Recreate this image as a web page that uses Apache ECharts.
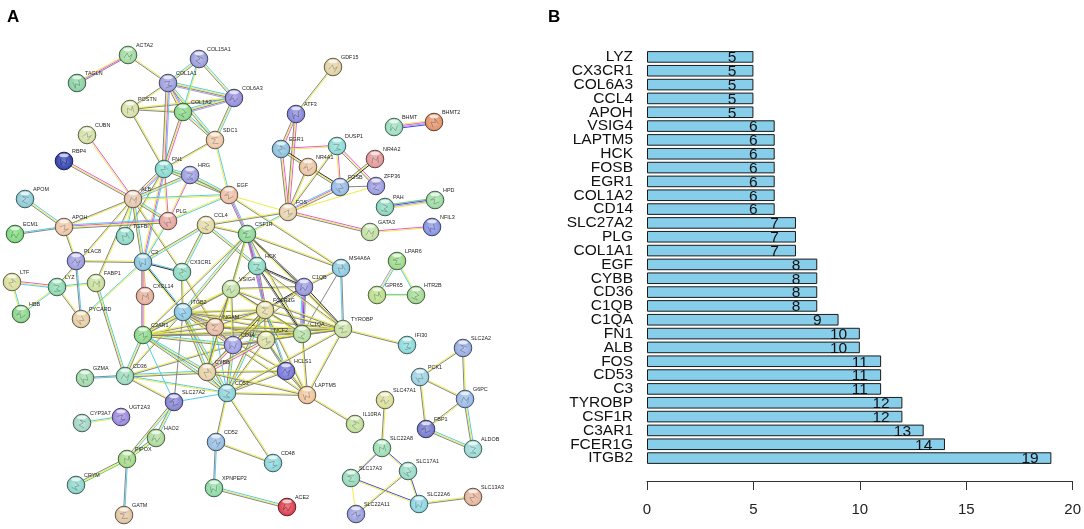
<!DOCTYPE html>
<html><head><meta charset="utf-8">
<style>html,body{margin:0;padding:0;background:#fff}#c{width:1084px;height:529px}</style>
<script src="https://cdn.jsdelivr.net/npm/echarts@6/dist/echarts.min.js"></script>
</head><body><div id="c"></div>
<script>
// Panel B data
const barCategories = ['LYZ','CX3CR1','COL6A3','CCL4','APOH','VSIG4','LAPTM5','HCK','FOSB','EGR1','COL1A2','CD14','SLC27A2','PLG','COL1A1','EGF','CYBB','CD36','C1QB','C1QA','FN1','ALB','FOS','CD53','C3','TYROBP','CSF1R','C3AR1','FCER1G','ITGB2'];
const barValues = [5,5,5,5,5,6,6,6,6,6,6,6,7,7,7,8,8,8,8,9,10,10,11,11,11,12,12,13,14,19];
const xTicks = {min:0,max:20,interval:5};

// Panel A data (network nodes)
const nodeNames = ['ACTA2','TAGLN','COL15A1','COL1A1','COL6A3','POSTN','COL1A2','SDC1','CUBN','RBP4','FN1','HRG','EGF','ALB','PLG','APOM','APOH','ECM1','TGFBI','CCL4','CSF1R','PLAC8','C3','CX3CR1','HCK','VSIG4','CXCL14','ITGB2','NGAM','C3AR1','CD14','CYBB','CD53','SLC27A2','CD36','GZMA','CYP3A7','UGT2A3','HAO2','PIPOX','CRYM','GATM','CD52','XPNPEP2','LTF','LYZ','HBB','FABP1','PYCARD','FCER1G','NCF2','C1QB','MS4A6A','C1QA','TYROBP','HCLS1','LAPTM5','IL10RA','IFI30','SLC47A1','SLC22A8','SLC17A1','SLC17A3','SLC22A11','SLC22A6','SLC13A3','ALDOB','FBP1','G6PC','PCK1','SLC2A2','CD48','ACE2','GPR65','HTR2B','LPAR6','GDF15','ATF3','EGR1','DUSP1','NR4A1','NR4A2','FOSB','ZFP36','FOS','BHMT','BHMT2','PAH','HPD','GATA3','NFIL3'];
const nodeX = [128,77,199,168,234,130,183,215,87,64,164,190,229,133,168,25,64,15,125,206,247,76,143,182,257,231,145,183,215,143,233,207,227,174,125,85,82,121,156,127,76,124,216,214,12,57,21,96,81,265,266,304,341,302,343,286,307,355,407,385,382,408,351,356,419,473,473,426,465,420,463,273,287,377,416,397,333,296,281,337,308,375,340,376,288,394,434,385,435,370,432];
const nodeY = [55,83,59,83,98,109,112,140,135,161,169,175,195,199,221,199,227,234,236,225,234,261,262,272,266,289,296,312,327,335,345,372,393,402,376,378,423,417,438,459,485,515,442,488,282,287,314,283,319,310,340,287,268,334,329,371,395,424,345,400,448,471,478,514,504,497,449,429,399,377,348,463,507,295,295,261,67,114,149,146,167,159,187,186,212,127,122,207,200,232,227];
const nodeColors = ['#a5dca5','#90d4a8','#a0a2de','#a2a2e2','#9a92de','#d8e2aa','#90da90','#efcbac','#d6e2aa','#3a4ab4','#8cdcd2','#a0a2e2','#efc2aa','#e8c8b0','#e8aaa2','#92ced8','#efcaaa','#84da84','#92dcca','#e4dcaa','#92da9a','#a2a2e2','#92cae2','#92dcc2','#92dcc8','#c4e2aa','#e8b4a2','#92cce8','#e8c0a8','#92da92','#a4a4e8','#e8d4aa','#92d4dc','#8a88d4','#a0dcc0','#a4dcb0','#a4d8c8','#a090e0','#b0dca0','#a8dc90','#92d8cc','#e4c8a8','#9cc0e4','#92dca8','#dce0a0','#92dcb4','#90d890','#cce2a0','#e8d0a8','#e4dca8','#dce0a8','#9c9ce0','#92cce0','#b8e0a8','#cce2a8','#7c7cdc','#f0c8a0','#c4e0a0','#92dcdc','#dce0a0','#a0e0b8','#9cdcc8','#9cdcc0','#a0a4e0','#92d8e4','#e8b8a0','#a0dcd8','#7c80d0','#9cbce8','#a0d4e4','#9cb0e4','#92d8dc','#e04858','#bce090','#a8dc98','#a0dc90','#e4d4a8','#8c8cdc','#92c4e0','#92dcd8','#eec8a8','#e49c9c','#9cbce8','#a0a0e4','#e8d4b0','#a0e0c0','#e49870','#92d8c0','#a0dca8','#c4e2a8','#8c98e4'];

// Edges: pair and evidence strand colours
// c cyan, m magenta, y yellow, g grey, K black, b blue, l green, p lilac
const edgeList = [
'TAGLN-ACTA2:ymg','ACTA2-COL1A1:yg','COL1A1-COL15A1:cyg','COL1A1-COL6A3:cygp','COL15A1-COL6A3:cyg','COL15A1-COL1A2:yc','COL1A1-COL1A2:cmyg','COL1A1-POSTN:yg','POSTN-COL1A2:yg','POSTN-COL6A3:yg','COL1A2-COL6A3:cygp','COL1A1-SDC1:cyg','COL1A2-SDC1:cyg','COL6A3-SDC1:cyg','COL1A1-FN1:cmyg','COL1A2-FN1:myg','POSTN-FN1:yg','SDC1-FN1:yg','SDC1-EGF:cy','CUBN-ALB:my','RBP4-ALB:myg','FN1-ALB:cmyg','FN1-HRG:cyg','FN1-EGF:cyg','FN1-PLG:my','FN1-C3:cmy','FN1-TGFBI:yg','HRG-ALB:cyg','HRG-PLG:my','HRG-EGF:cyg','ALB-EGF:cy','ALB-PLG:cyg','ALB-APOH:yg','ALB-C3:cyg','ALB-TGFBI:cy','ALB-CX3CR1:yg','ALB-LYZ:yg','ALB-FABP1:yg','APOM-APOH:cyg','ECM1-APOH:cg','APOH-PLG:cmyg','APOH-PLAC8:yg','EGF-PLG:cy','EGF-CSF1R:cmg','EGF-FOS:y','EGF-MS4A6A:yg','C3-PLG:yc','CCL4-C3:cyg','CCL4-CX3CR1:cyg','CCL4-CSF1R:yg','CCL4-HCK:cyg','CCL4-FOS:yg','CSF1R-FOS:cy',
'GDF15-ATF3:yg','ATF3-EGR1:myg','ATF3-FOS:myg','EGR1-DUSP1:my','EGR1-NR4A1:Kyg','EGR1-FOS:myg','DUSP1-FOSB:my','DUSP1-ZFP36:myg','NR4A1-FOS:yg','NR4A1-FOSB:Kyg','NR4A2-FOSB:Kyg','FOSB-ZFP36:g','FOS-FOSB:cmyg','FOS-ZFP36:y','FOS-DUSP1:yg','FOS-GATA3:myg','GATA3-NFIL3:my','BHMT-BHMT2:ympb','PAH-HPD:lbpy','LPAR6-GPR65:cyp','LPAR6-HTR2B:yc','GPR65-HTR2B:cy',
'LTF-LYZ:myc','LTF-HBB:cy','LYZ-HBB:cy','LYZ-FABP1:cy','LYZ-PYCARD:yg','PLAC8-PYCARD:cg','PLAC8-C3:yg','FABP1-CD36:cyg','PYCARD-C3:cy','C3-CXCL14:my','C3-ITGB2:cKy','C3-C3AR1:ymg','C3-CX3CR1:cK','CX3CR1-ITGB2:yg','CX3CR1-NGAM:yg',
'CD36-GZMA:cg','CD36-C3AR1:cyg','CD36-SLC27A2:yg','CD36-CD53:cy','CD36-CYBB:cyg','CD36-ITGB2:yg','CD36-CD14:yg','SLC27A2-HAO2:cyg','SLC27A2-PIPOX:cyg','HAO2-PIPOX:lyg','PIPOX-CRYM:lyg','PIPOX-GATM:cg','CYP3A7-UGT2A3:cy','SLC27A2-CD53:c','SLC27A2-C3AR1:c','CD53-CD52:yg','CD52-CD48:yg','CD53-CD48:yg','CD52-XPNPEP2:cg','XPNPEP2-ACE2:cyg','CD53-LAPTM5:yg','LAPTM5-IL10RA:yg','LAPTM5-TYROBP:yg','LAPTM5-C1QA:yg','HCLS1-LAPTM5:yg','TYROBP-MS4A6A:cg','TYROBP-IFI30:yg','C1QB-MS4A6A:yg','C1QA-C1QB:cmbg','MS4A6A-C1QA:g',
'SLC47A1-SLC22A8:yg','SLC22A8-SLC17A1:by','SLC22A8-SLC17A3:by','SLC17A1-SLC22A6:by','SLC17A3-SLC22A6:by','SLC17A3-SLC22A11:y','SLC22A11-SLC17A1:yg','SLC22A6-SLC13A3:yg','PCK1-SLC2A2:yg','PCK1-G6PC:yg','PCK1-FBP1:yg','SLC2A2-G6PC:yg','G6PC-FBP1:yg','G6PC-ALDOB:cyg','FBP1-ALDOB:cyg',
'ITGB2-FCER1G:yg','ITGB2-NGAM:cmg','ITGB2-C3AR1:cyg','ITGB2-CD14:cmyg','ITGB2-NCF2:yg','ITGB2-C1QA:yg','ITGB2-TYROBP:yg','ITGB2-CSF1R:cyg','ITGB2-VSIG4:yg','ITGB2-CYBB:cyg','ITGB2-CD53:cyg','ITGB2-HCLS1:yg','ITGB2-SLC27A2:g',
'C3AR1-FCER1G:yg','C3AR1-NGAM:yg','C3AR1-CD14:cyg','C3AR1-C1QA:yg','C3AR1-TYROBP:yg','C3AR1-CYBB:cyg','C3AR1-CD53:cyg','C3AR1-CSF1R:yg','C3AR1-VSIG4:yg',
'FCER1G-NGAM:yg','FCER1G-CD14:Kyg','FCER1G-NCF2:yg','FCER1G-C1QA:yg','FCER1G-C1QB:Kg','FCER1G-TYROBP:yg','FCER1G-CSF1R:mg','FCER1G-HCK:cmg','FCER1G-VSIG4:yg','FCER1G-CYBB:yg','FCER1G-CD53:cyg','FCER1G-LAPTM5:yg','FCER1G-HCLS1:cg',
'NGAM-CD14:yg','NGAM-CYBB:cy','NGAM-CD53:c','NGAM-C1QA:yg','NGAM-TYROBP:yg','NGAM-VSIG4:yg',
'CD14-NCF2:cmg','CD14-C1QA:yg','CD14-C1QB:yg','CD14-CYBB:myg','CD14-CD53:cyg','CD14-VSIG4:yg','CD14-LAPTM5:yg',
'NCF2-C1QA:yg','NCF2-TYROBP:yg','NCF2-CYBB:myg','NCF2-HCLS1:cg','NCF2-CD53:yg','NCF2-LAPTM5:yg','C1QA-TYROBP:yg','C1QB-TYROBP:Kyg','C1QA-VSIG4:yg','C1QB-VSIG4:yg','C1QB-CSF1R:Kg','C1QA-CSF1R:yg','CSF1R-MS4A6A:yg','TYROBP-CSF1R:yg','TYROBP-HCK:yg','VSIG4-TYROBP:yg','CSF1R-HCK:cmg','CSF1R-VSIG4:cy','CSF1R-CYBB:yg','HCK-VSIG4:yg','HCK-C1QA:Kg','HCK-C1QB:Kg','VSIG4-CYBB:yg','CYBB-CD53:cyg','CD53-HCLS1:yg','CYBB-HCLS1:yg','CYBB-LAPTM5:yg','CD53-TYROBP:yg'
];
const strandColors = {c:'#48c8f0',m:'#e650e6',y:'#ecec3c',g:'#808080',K:'#1c1c1c',b:'#4040e0',l:'#58d058',p:'#a898e2'};

const idx = Object.fromEntries(nodeNames.map((n,i)=>[n,i]));
const edgeRows = edgeList.map(s=>{const [p,c]=s.split(':');const [a,b]=p.split('-');return {a:idx[a],b:idx[b],c};}).filter(e=>e.a!==undefined&&e.b!==undefined);
const edgeData = edgeRows.map(e=>[nodeX[e.a],nodeY[e.a],nodeX[e.b],nodeY[e.b]]);
const nodeData = nodeNames.map((n,i)=>[nodeX[i],nodeY[i]]);

function shade(hex,f){const n=parseInt(hex.slice(1),16);const ch=[n>>16,(n>>8)&255,n&255].map(v=>Math.round(f>0?v+(255-v)*f:v*(1+f)));return 'rgb('+ch.join(',')+')';}
const squiggle=[[-4,2],[-1,-3],[1,1],[4,-2],[2,4]];

const chart = echarts.init(document.getElementById('c'),null,{renderer:'canvas'});
chart.setOption({
  animation:false,
  backgroundColor:'#fff',
  textStyle:{fontFamily:'"Liberation Sans",Arial,sans-serif'},
  grid:[
    {left:0,right:0,top:0,bottom:0},
    {left:647,width:426,top:50,height:415}
  ],
  xAxis:[
    {gridIndex:0,type:'value',min:0,max:1084,show:false},
    {gridIndex:1,type:'value',min:xTicks.min,max:xTicks.max,interval:xTicks.interval,position:'bottom',offset:16,
     axisLine:{show:true,lineStyle:{color:'#333',width:1}},
     axisTick:{show:true,length:9,lineStyle:{color:'#333',width:1}},
     axisLabel:{color:'#222',fontSize:15,margin:21,hideOverlap:false,showMinLabel:true,showMaxLabel:true,fontFamily:'"Liberation Sans",Arial,sans-serif'},
     splitLine:{show:false}}
  ],
  yAxis:[
    {gridIndex:0,type:'value',min:0,max:529,inverse:true,show:false},
    {gridIndex:1,type:'category',inverse:true,data:barCategories,
     axisLine:{show:false},axisTick:{show:false},
     axisLabel:{color:'#111',fontSize:15.5,margin:14,interval:0,fontFamily:'"Liberation Sans",Arial,sans-serif'}}
  ],
  series:[
    {type:'custom',name:'edges',xAxisIndex:0,yAxisIndex:0,coordinateSystem:'cartesian2d',clip:false,silent:true,z:1,
     data:edgeData,encode:{x:[0,2],y:[1,3]},
     renderItem(params,api){
       const p1=api.coord([api.value(0),api.value(1)]),p2=api.coord([api.value(2),api.value(3)]);
       const cs=edgeRows[params.dataIndex].c.split('');
       const dx=p2[0]-p1[0],dy=p2[1]-p1[1],L=Math.hypot(dx,dy)||1,nx=-dy/L,ny=dx/L,gap=1.2;
       return {type:'group',children:cs.map((k,i)=>{const o=(i-(cs.length-1)/2)*gap;return {type:'line',
         shape:{x1:p1[0]+nx*o,y1:p1[1]+ny*o,x2:p2[0]+nx*o,y2:p2[1]+ny*o},
         style:{stroke:strandColors[k],lineWidth:0.95}};})};
     }},
    {type:'custom',name:'nodes',xAxisIndex:0,yAxisIndex:0,coordinateSystem:'cartesian2d',clip:false,silent:true,z:2,
     data:nodeData,encode:{x:0,y:1},
     renderItem(params,api){
       const p=api.coord([api.value(0),api.value(1)]),i=params.dataIndex,col=nodeColors[i],r=8.8,x=p[0],y=p[1];
       const sc=shade(col,-0.55),a=i*2.4,ca=Math.cos(a),sa=Math.sin(a);
       return {type:'group',children:[
         {type:'circle',shape:{cx:x,cy:y,r:r},style:{
           fill:new echarts.graphic.RadialGradient(0.5,0.5,0.55,[{offset:0,color:shade(col,0.3)},{offset:0.7,color:col},{offset:1,color:shade(col,-0.25)}]),
           stroke:sc,lineWidth:1}},
         {type:'polyline',shape:{points:squiggle.map(q=>[x+q[0]*ca-q[1]*sa,y+1+q[0]*sa+q[1]*ca])},style:{fill:'none',stroke:shade(col,-0.3),lineWidth:1,opacity:0.7}},
         {type:'ellipse',shape:{cx:x,cy:y-5.6,rx:4.8,ry:1.9},style:{fill:'rgba(255,255,255,0.7)'}},
         {type:'text',x:x+8,y:y-9.5,style:{text:nodeNames[i],fontSize:5.4,fill:'#222',align:'left',verticalAlign:'middle',fontFamily:'"Liberation Sans",Arial,sans-serif'}}
       ]};
     }},
    {type:'bar',name:'degree',xAxisIndex:1,yAxisIndex:1,data:barValues,barWidth:11.6,
     itemStyle:{color:'#87CEEB',borderColor:'#1a1a1a',borderWidth:1},
     label:{show:true,position:['100%','50%'],offset:[-21.3,1],align:'center',verticalAlign:'middle',color:'#111',fontSize:15.5,fontFamily:'"Liberation Sans",Arial,sans-serif'}}
  ],
  graphic:[
    {type:'text',left:7,top:9,style:{text:'A',fontSize:17,fontWeight:'bold',fill:'#000',fontFamily:'"Liberation Sans",Arial,sans-serif'}},
    {type:'text',left:548,top:9,style:{text:'B',fontSize:17,fontWeight:'bold',fill:'#000',fontFamily:'"Liberation Sans",Arial,sans-serif'}}
  ]
});
</script></body></html>
